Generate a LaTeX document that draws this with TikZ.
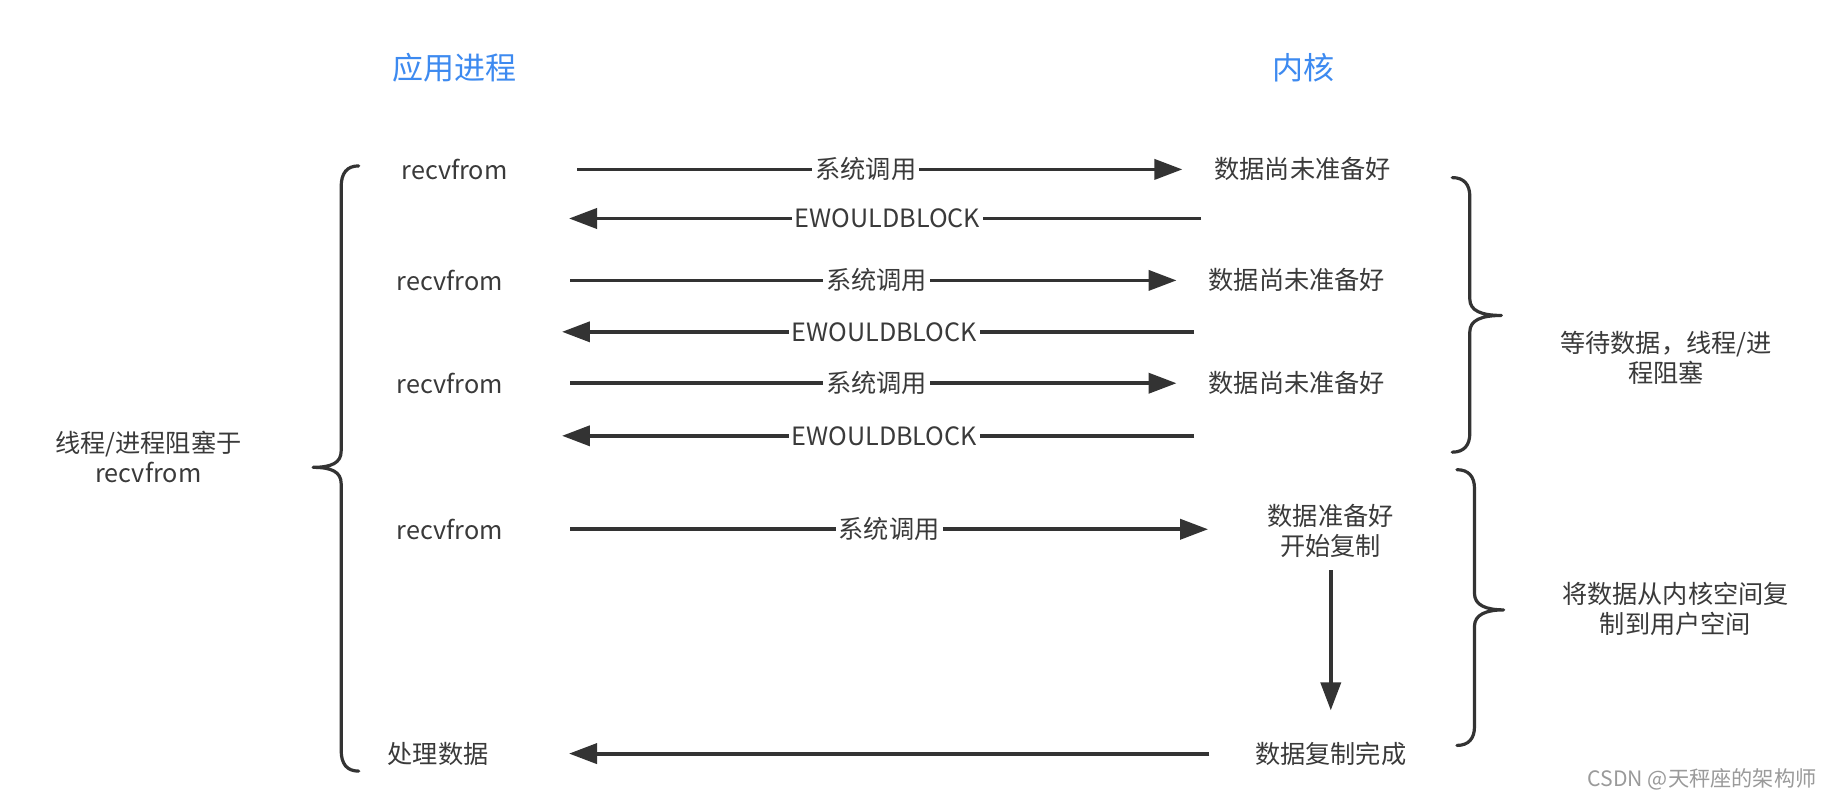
\documentclass[tikz,border=0pt]{standalone}
\usepackage{fontspec}
\setmainfont{Noto Sans CJK SC}
\usetikzlibrary{arrows.meta}
\definecolor{txt}{HTML}{3A3A3A}
\definecolor{ln}{HTML}{333333}
\definecolor{ttl}{HTML}{3D8AF0}
\definecolor{wm}{HTML}{9A9A9A}
\tikzset{
  lbl/.style={font=\fontsize{12.6}{15}\selectfont, text=txt, inner sep=1pt, align=center},
  onln/.style={lbl, fill=white, inner sep=1.5pt},
  ttlnode/.style={font=\fontsize{15.5}{18}\selectfont, text=ttl},
  arr/.style={draw=ln, line width=1.9pt, -{Triangle[length=14pt,width=10pt]}},
  brc/.style={draw=ln, line width=1.6pt, line cap=round, line join=round},
}
\begin{document}
\begin{tikzpicture}[x=0.5842pt,y=-0.5842pt]
\useasboundingbox (0,0) rectangle (1568,685);
\fill[white] (0,0) rectangle (1568,685);

% titles
\node[ttlnode] (tapp) at (389,58) {应用进程};
\node[ttlnode] (tker) at (1116,58) {内核};

% left column
\node[lbl] (a1) at (389,145) {recvfrom};
\node[lbl] (a2) at (385,240) {recvfrom};
\node[lbl] (a3) at (385,328) {recvfrom};
\node[lbl] (a4) at (385,453) {recvfrom};
\node[lbl] (a5) at (375,645) {处理数据};
\node[lbl] (lblock) at (127,391) {线程/进程阻塞于\\recvfrom};

% kernel column
\node[lbl] (k1) at (1115,145) {数据尚未准备好};
\node[lbl] (k2) at (1110,240) {数据尚未准备好};
\node[lbl] (k3) at (1110,328) {数据尚未准备好};
\node[lbl] (k4) at (1139,454) {数据准备好\\开始复制};
\node[lbl] (k5) at (1139,645) {数据复制完成};

% right labels
\node[lbl] (rwait) at (1426,306) {等待数据，线程/进\\程阻塞};
\node[lbl] (rcopy) at (1434,521) {将数据从内核空间复\\制到用户空间};

% arrow end points
\coordinate (s1) at (494,145); \coordinate (e1) at (1012,145);
\coordinate (s2) at (1028,187); \coordinate (e2) at (487,187);
\coordinate (s3) at (488,240); \coordinate (e3) at (1007,240);
\coordinate (s4) at (1022,284); \coordinate (e4) at (481,284);
\coordinate (s5) at (488,328); \coordinate (e5) at (1007,328);
\coordinate (s6) at (1022,373); \coordinate (e6) at (481,373);
\coordinate (s7) at (488,453); \coordinate (e7) at (1034,453);
\coordinate (s8) at (1139,488); \coordinate (e8) at (1139,608);
\coordinate (s9) at (1035,645); \coordinate (e9) at (487,645);

\draw[arr] (s1) -- (e1) node[onln, pos=0.477] {系统调用};
\draw[arr] (s2) -- (e2) node[onln, pos=0.496] {EWOULDBLOCK};
\draw[arr] (s3) -- (e3) node[onln, pos=0.505] {系统调用};
\draw[arr] (s4) -- (e4) node[onln, pos=0.49] {EWOULDBLOCK};
\draw[arr] (s5) -- (e5) node[onln, pos=0.505] {系统调用};
\draw[arr] (s6) -- (e6) node[onln, pos=0.49] {EWOULDBLOCK};
\draw[arr] (s7) -- (e7) node[onln, pos=0.50] {系统调用};
\draw[arr] (s8) -- (e8);
\draw[arr] (s9) -- (e9);

% left brace
\draw[brc] (307,142) .. controls (297,142) and (292,148) .. (292,160)
  -- (292,386) .. controls (292,396) and (284,400) .. (268,400)
  .. controls (284,400) and (292,404) .. (292,414)
  -- (292,642) .. controls (292,654) and (297,660) .. (307,660);

% right brace 1
\draw[brc] (1243,152) .. controls (1253,152) and (1258,158) .. (1258,168)
  -- (1258,256) .. controls (1258,266) and (1268,270) .. (1285,270)
  .. controls (1268,270) and (1258,274) .. (1258,284)
  -- (1258,371) .. controls (1258,381) and (1253,387) .. (1243,387);

% right brace 2
\draw[brc] (1247,402) .. controls (1257,402) and (1262,408) .. (1262,418)
  -- (1262,508) .. controls (1262,518) and (1272,522) .. (1287,522)
  .. controls (1272,522) and (1262,526) .. (1262,536)
  -- (1262,622) .. controls (1262,632) and (1257,638) .. (1247,638);

% watermark
\node[anchor=east, font=\fontsize{10.6}{13}\selectfont, text=wm, inner sep=0pt] (wmk) at (1555,667) {CSDN @天秤座的架构师};
\end{tikzpicture}
\end{document}
